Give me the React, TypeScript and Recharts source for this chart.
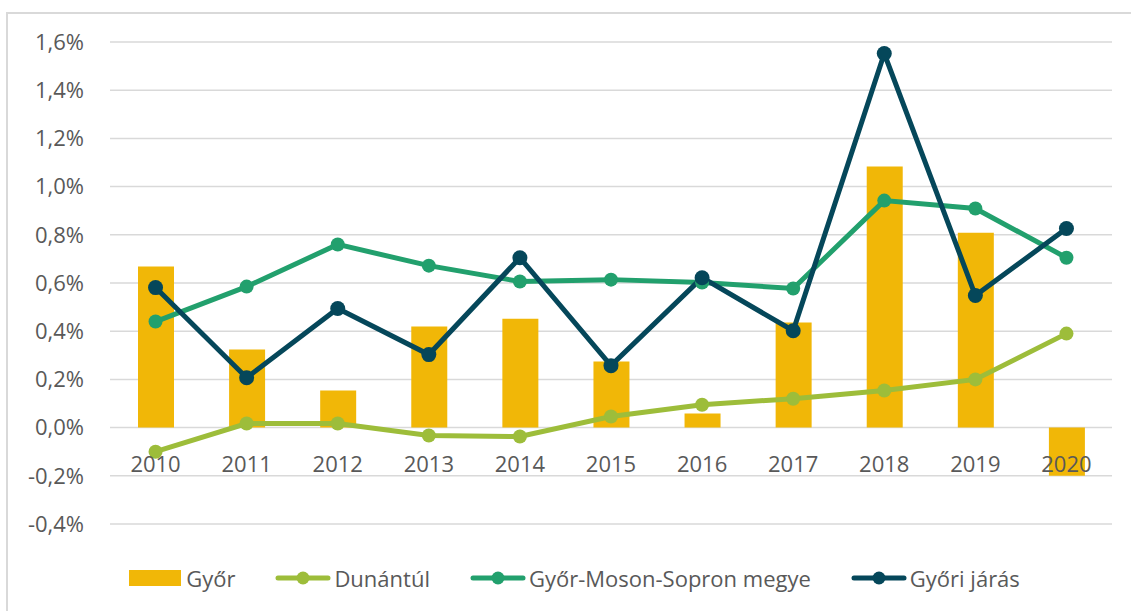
import { ComposedChart, Bar, Line, XAxis, YAxis, CartesianGrid, Legend } from "recharts";

const years = ["2010", "2011", "2012", "2013", "2014", "2015", "2016", "2017", "2018", "2019", "2020"];
const gyor = [0.668, 0.324, 0.154, 0.419, 0.452, 0.274, 0.058, 0.436, 1.083, 0.809, -0.2];
const dunantul = [-0.1, 0.017, 0.017, -0.033, -0.037, 0.046, 0.095, 0.12, 0.154, 0.2, 0.39];
const megye = [0.44, 0.585, 0.76, 0.672, 0.606, 0.614, 0.602, 0.577, 0.942, 0.909, 0.705];
const jaras = [0.581, 0.207, 0.494, 0.303, 0.705, 0.257, 0.622, 0.402, 1.552, 0.548, 0.826];
const yTicks = [-0.4, -0.2, 0, 0.2, 0.4, 0.6, 0.8, 1.0, 1.2, 1.4, 1.6];

const COLORS = {
  gyor: "#F1B707",
  dunantul: "#9DBD3A",
  megye: "#22A06D",
  jaras: "#05475A",
};

const FONT = "'Open Sans', sans-serif";
const TEXT = "#595959";

const W = 1123;
const H = 597;
const M = { top: 28, right: 19, bottom: 18, left: 0 };
const X_AXIS_H = 39;
const LEGEND_H = 30;
const PLOT_H = H - M.top - M.bottom - X_AXIS_H - LEGEND_H;
const Y_MIN = -0.4;
const Y_MAX = 1.6;
// y of the zero line inside the svg, x labels hang below it
const ZERO_Y = M.top + (PLOT_H * Y_MAX) / (Y_MAX - Y_MIN);

const data = years.map((y, i) => ({
  year: y,
  gyor: gyor[i],
  dunantul: dunantul[i],
  megye: megye[i],
  jaras: jaras[i],
}));

const fmt = (v: number) => v.toFixed(1).replace(".", ",") + "%";

const YearTick = (p: any) => (
  <text
    x={p.x}
    y={ZERO_Y + 35}
    textAnchor="middle"
    dominantBaseline="central"
    fill={TEXT}
    fontSize={22}
    fontFamily={FONT}
  >
    {p.payload.value}
  </text>
);

const legendItems = [
  { name: "Győr", color: COLORS.gyor, bar: true },
  { name: "Dunántúl", color: COLORS.dunantul },
  { name: "Győr-Moson-Sopron megye", color: COLORS.megye },
  { name: "Győri járás", color: COLORS.jaras },
];

function LegendBox() {
  return (
    <div
      style={{
        display: "flex",
        justifyContent: "center",
        alignItems: "center",
        height: LEGEND_H,
        paddingLeft: 50,
        fontFamily: FONT,
        fontSize: 22,
        color: TEXT,
      }}
    >
      {legendItems.map((it) => (
        <div key={it.name} style={{ display: "flex", alignItems: "center", marginRight: 40 }}>
          {it.bar ? (
            <svg width={52} height={16} style={{ marginRight: 5 }}>
              <rect x={0} y={0} width={52} height={16} fill={it.color} />
            </svg>
          ) : (
            <svg width={56} height={16} style={{ marginRight: 3 }}>
              <line x1={3} y1={8} x2={53} y2={8} stroke={it.color} strokeWidth={5} strokeLinecap="round" />
              <circle cx={28} cy={8} r={6.5} fill={it.color} />
            </svg>
          )}
          <span>{it.name}</span>
        </div>
      ))}
    </div>
  );
}

export default function App() {
  return (
    <div
      style={{
        position: "absolute",
        left: 6,
        top: 12,
        width: W,
        height: H,
        borderTop: "2px solid #d9d9d9",
        borderLeft: "2px solid #d9d9d9",
        background: "#fff",
      }}
    >
      <ComposedChart width={W} height={H} data={data} margin={M}>
        <CartesianGrid vertical={false} stroke="#d9d9d9" strokeWidth={1.5} />
        <XAxis
          dataKey="year"
          height={X_AXIS_H}
          axisLine={false}
          tickLine={false}
          tick={<YearTick />}
          interval={0}
        />
        <YAxis
          width={102}
          domain={[Y_MIN, Y_MAX]}
          ticks={yTicks}
          tickFormatter={fmt}
          axisLine={false}
          tickLine={false}
          tickMargin={20}
          interval={0}
          tick={{ fill: TEXT, fontSize: 22, fontFamily: FONT }}
        />
        <Legend
          verticalAlign="bottom"
          height={LEGEND_H}
          content={() => <LegendBox />}
          wrapperStyle={{ left: 0, width: W }}
        />
        <Bar dataKey="gyor" name="Győr" fill={COLORS.gyor} barSize={36} isAnimationActive={false} />
        <Line
          dataKey="dunantul"
          name="Dunántúl"
          stroke={COLORS.dunantul}
          strokeWidth={5}
          dot={{ r: 7, fill: COLORS.dunantul, stroke: COLORS.dunantul, strokeWidth: 0 }}
          isAnimationActive={false}
        />
        <Line
          dataKey="megye"
          name="Győr-Moson-Sopron megye"
          stroke={COLORS.megye}
          strokeWidth={5}
          dot={{ r: 7, fill: COLORS.megye, stroke: COLORS.megye, strokeWidth: 0 }}
          isAnimationActive={false}
        />
        <Line
          dataKey="jaras"
          name="Győri járás"
          stroke={COLORS.jaras}
          strokeWidth={5}
          dot={{ r: 7.5, fill: COLORS.jaras, stroke: COLORS.jaras, strokeWidth: 0 }}
          isAnimationActive={false}
        />
      </ComposedChart>
    </div>
  );
}
